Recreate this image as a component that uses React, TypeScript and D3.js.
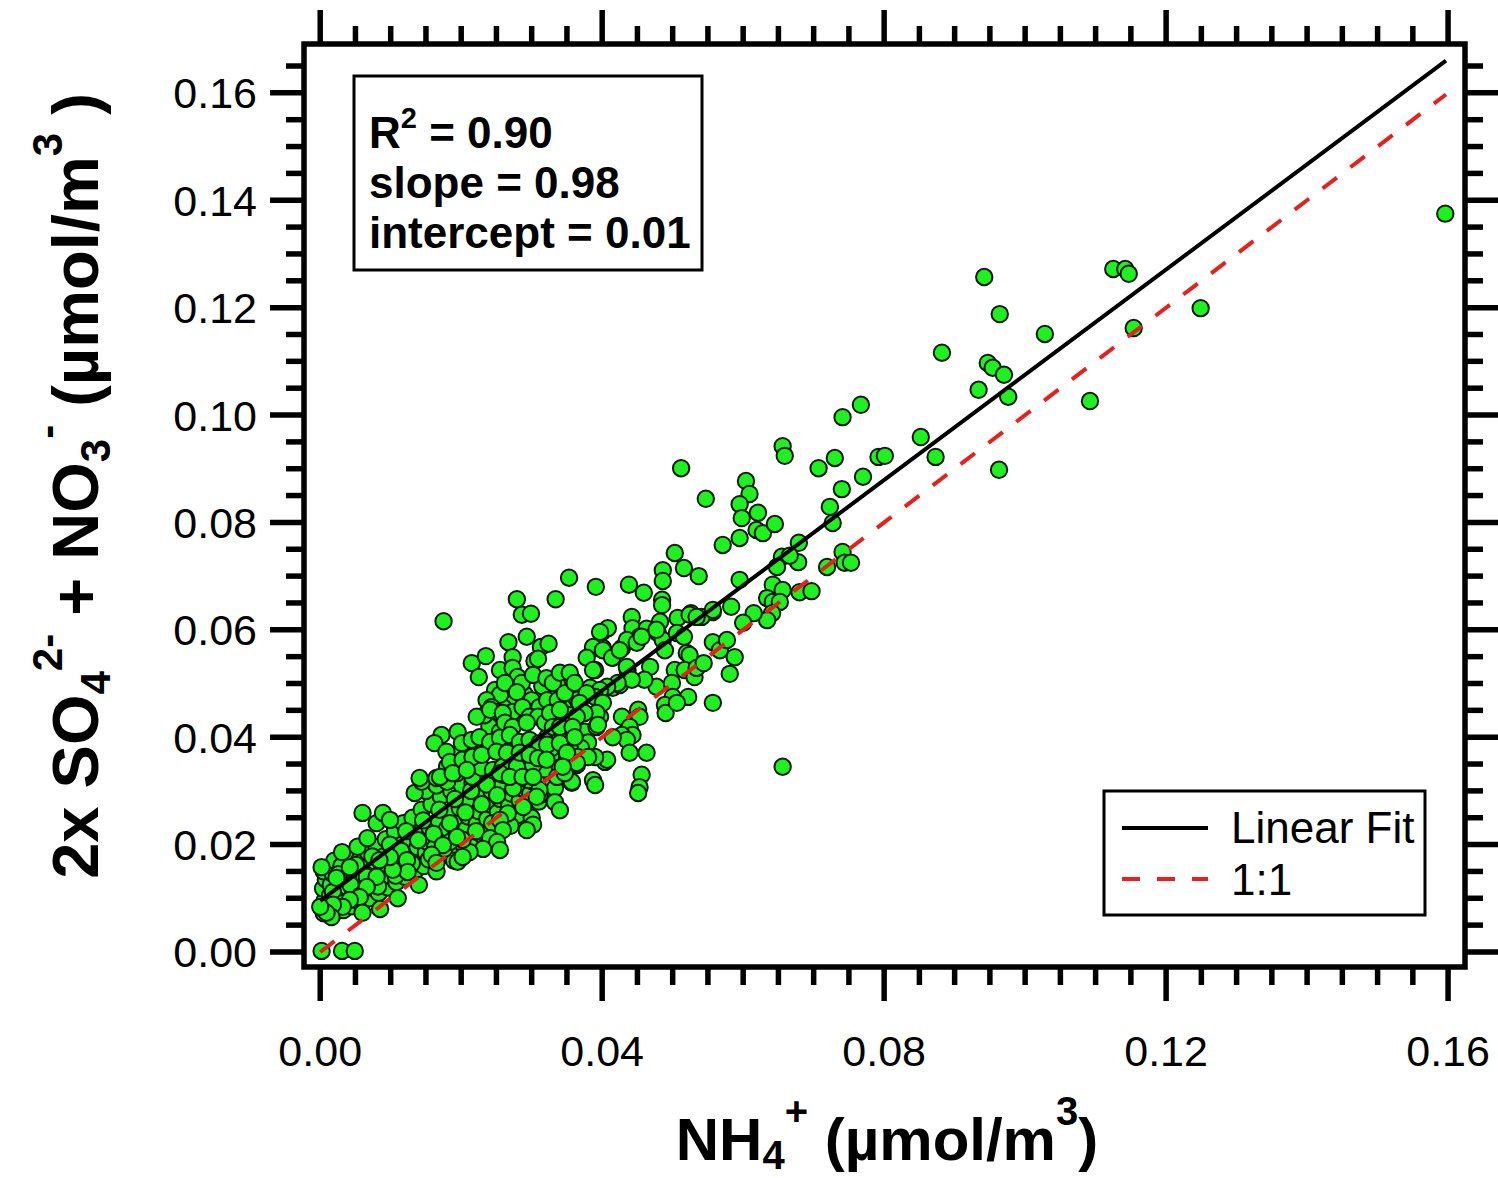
import React from "react";
import * as d3 from "d3";

// ---------- data (µmol/m3) ----------
const outlierPoints: [number, number][] = [
  [0.1596, 0.1375], [0.0942, 0.1257], [0.1125, 0.1272], [0.1142, 0.1272], [0.1147, 0.1263],
  [0.1154, 0.1162], [0.1249, 0.1199], [0.1028, 0.1151], [0.0882, 0.1116], [0.0964, 0.1188],
  [0.0947, 0.1097], [0.0954, 0.1088], [0.097, 0.1075], [0.0934, 0.1047], [0.0976, 0.1034],
  [0.1092, 0.1026], [0.0963, 0.0898], [0.0852, 0.0959], [0.0873, 0.0922], [0.0792, 0.0922],
  [0.0801, 0.0924], [0.077, 0.0885], [0.0741, 0.0996], [0.0767, 0.1019], [0.073, 0.092],
  [0.0707, 0.0901], [0.074, 0.0862], [0.0723, 0.0829], [0.0727, 0.0799], [0.0656, 0.0942],
  [0.0659, 0.0924], [0.0512, 0.0901], [0.0547, 0.0844], [0.0604, 0.0877], [0.0609, 0.0853],
  [0.0595, 0.0834], [0.0621, 0.0818], [0.0598, 0.0808], [0.0619, 0.0786], [0.0628, 0.078],
  [0.0645, 0.0797], [0.0595, 0.0771], [0.0571, 0.0758], [0.0656, 0.0345],
];

const midPoints: [number, number][] = [
  [0.0503, 0.0743], [0.0516, 0.0715], [0.0537, 0.07], [0.0486, 0.0711], [0.0486, 0.0691],
  [0.0485, 0.0656], [0.0485, 0.0646], [0.0353, 0.0697], [0.0391, 0.068], [0.0438, 0.0684],
  [0.0459, 0.0669], [0.0595, 0.0693], [0.0679, 0.0762], [0.0678, 0.0726], [0.0655, 0.0736],
  [0.0666, 0.0738], [0.0648, 0.0717], [0.0719, 0.0717], [0.0741, 0.0745], [0.0744, 0.0725],
  [0.0753, 0.0725], [0.0642, 0.0684], [0.0656, 0.0674], [0.0634, 0.0659], [0.0642, 0.0652],
  [0.0652, 0.0652], [0.068, 0.067], [0.0697, 0.0672], [0.0641, 0.0631], [0.0634, 0.0618],
  [0.0615, 0.0631], [0.06, 0.0613], [0.0583, 0.0643], [0.0557, 0.0633], [0.0541, 0.0624],
  [0.0526, 0.0631], [0.0507, 0.0622], [0.0482, 0.0615], [0.0479, 0.0594], [0.0442, 0.0624],
  [0.0443, 0.0603], [0.0463, 0.0602], [0.0453, 0.0587], [0.0435, 0.0581], [0.0408, 0.0603],
  [0.0397, 0.0596], [0.0387, 0.0568], [0.0401, 0.0562], [0.0378, 0.0548], [0.0387, 0.0525],
  [0.034, 0.052], [0.0354, 0.052], [0.0361, 0.0501], [0.0414, 0.0548], [0.0425, 0.0562],
  [0.0435, 0.0531], [0.0449, 0.0576], [0.0456, 0.0587], [0.0468, 0.0531], [0.0486, 0.0581],
  [0.0477, 0.06], [0.0489, 0.0562], [0.0506, 0.0594], [0.0516, 0.0587], [0.0524, 0.0628],
  [0.0534, 0.0624], [0.0557, 0.0637], [0.052, 0.0557], [0.0524, 0.0553], [0.0503, 0.0525],
  [0.0517, 0.0525], [0.0531, 0.0512], [0.0534, 0.0529], [0.0544, 0.0538], [0.0557, 0.0577],
  [0.0567, 0.0562], [0.0577, 0.0581], [0.0588, 0.0549], [0.0581, 0.0518], [0.0477, 0.0494],
  [0.0499, 0.0501], [0.05, 0.0475], [0.0522, 0.0475], [0.0489, 0.046], [0.049, 0.0445],
  [0.0506, 0.0464], [0.0557, 0.0464], [0.046, 0.0507], [0.0442, 0.0507], [0.0422, 0.0501],
  [0.0407, 0.0494], [0.0397, 0.0488], [0.039, 0.0475], [0.0378, 0.0482], [0.0368, 0.0464],
  [0.0401, 0.0464], [0.0392, 0.0445], [0.0394, 0.0423], [0.0375, 0.0445], [0.0451, 0.0451],
  [0.0453, 0.0438], [0.0428, 0.0438], [0.0439, 0.0419], [0.0443, 0.0404], [0.0428, 0.0404],
  [0.0435, 0.0395], [0.0439, 0.0371], [0.0415, 0.04], [0.0463, 0.0371], [0.0407, 0.0358],
  [0.039, 0.0363], [0.038, 0.0363], [0.0364, 0.0352], [0.0357, 0.0317], [0.039, 0.0311],
  [0.0347, 0.0333], [0.0456, 0.033], [0.0453, 0.0307], [0.0451, 0.0296], [0.034, 0.0451],
  [0.034, 0.0419], [0.034, 0.0389], [0.035, 0.0371], [0.0344, 0.0345], [0.0364, 0.0438],
  [0.0358, 0.0419], [0.0361, 0.04],
];

const clusterPoints: [number, number][] = [
  [0.0175, 0.0616], [0.0279, 0.0657], [0.0334, 0.0657], [0.0286, 0.0628], [0.0299, 0.063],
  [0.0267, 0.0577], [0.0293, 0.0587], [0.0313, 0.0568], [0.0324, 0.0574], [0.0215, 0.0538],
  [0.0235, 0.0551], [0.0225, 0.0512], [0.0273, 0.0549], [0.0255, 0.0525], [0.0273, 0.0529],
  [0.028, 0.0512], [0.0286, 0.0501], [0.0304, 0.0542], [0.0309, 0.0546], [0.0248, 0.0488],
  [0.0255, 0.0479], [0.0262, 0.0501], [0.0236, 0.0469], [0.0243, 0.0456], [0.0233, 0.0441],
  [0.0252, 0.0447], [0.0302, 0.0516], [0.0321, 0.051], [0.033, 0.0501], [0.0358, 0.0507],
  [0.0387, 0.0566], [0.04, 0.0596], [0.0401, 0.0566], [0.0415, 0.0548], [0.0428, 0.0566],
  [0.039, 0.0525], [0.0383, 0.0492], [0.0415, 0.0492], [0.0425, 0.0497], [0.0436, 0.0525],
  [0.0279, 0.0484], [0.03, 0.0469], [0.0311, 0.0456], [0.0322, 0.0469], [0.0337, 0.0469],
  [0.0347, 0.0482], [0.0273, 0.0447], [0.0287, 0.0456], [0.0297, 0.0438], [0.0309, 0.0438],
  [0.0319, 0.0427], [0.0326, 0.0445], [0.0343, 0.0447], [0.0354, 0.0441], [0.0397, 0.0438],
  [0.0392, 0.0419], [0.0436, 0.0413], [0.0222, 0.0438], [0.0241, 0.0451], [0.0259, 0.0445],
  [0.0262, 0.0427], [0.0273, 0.0419], [0.0293, 0.0427], [0.033, 0.0419], [0.0343, 0.0413],
  [0.035, 0.0408], [0.0358, 0.0427], [0.0172, 0.0404], [0.0195, 0.041], [0.0162, 0.0389],
  [0.0179, 0.0373], [0.0201, 0.0389], [0.0215, 0.0395], [0.0226, 0.04], [0.0241, 0.0391],
  [0.0255, 0.0399], [0.0269, 0.0404], [0.0283, 0.0391], [0.0297, 0.0395], [0.0311, 0.0389],
  [0.0322, 0.0386], [0.0343, 0.0391], [0.0354, 0.038], [0.0184, 0.0354], [0.0202, 0.0358],
  [0.0216, 0.0363], [0.0229, 0.0367], [0.025, 0.0373], [0.0265, 0.0371], [0.0283, 0.0371],
  [0.0297, 0.0367], [0.0309, 0.0361], [0.0321, 0.0358], [0.035, 0.0361], [0.0365, 0.0363],
  [0.0141, 0.0324], [0.017, 0.0326], [0.0188, 0.0333], [0.0208, 0.0339], [0.0255, 0.0333],
  [0.0269, 0.0326], [0.0287, 0.0326], [0.0302, 0.0326], [0.0336, 0.0326], [0.0387, 0.032],
];

const lowPoints: [number, number][] = [
  [0.0002, 0.0002], [0.0031, 0.0002], [0.0049, 0.0002], [0.006, 0.0259], [0.0002, 0.0158],
  [0.0023, 0.0138], [0.0002, 0.0082], [0.0042, 0.0158], [0.0031, 0.0186], [0.0053, 0.0196],
  [0.0067, 0.0212], [0.008, 0.024], [0.0089, 0.0259], [0.0099, 0.0246], [0.0134, 0.0296],
  [0.0144, 0.0317], [0.0165, 0.0324], [0.018, 0.0317], [0.0194, 0.0333], [0.0216, 0.0326],
  [0.0229, 0.0343], [0.0245, 0.0339], [0.0259, 0.0345], [0.0279, 0.0345], [0.0302, 0.0348],
  [0.034, 0.0343], [0.0357, 0.0315], [0.0404, 0.0354], [0.0364, 0.0348], [0.0311, 0.0302],
  [0.0307, 0.0289], [0.0333, 0.0279], [0.034, 0.0264], [0.0302, 0.0237], [0.0293, 0.0227],
  [0.0255, 0.0246], [0.0259, 0.0227], [0.0241, 0.0212], [0.0251, 0.0205], [0.0255, 0.019],
  [0.0231, 0.0192], [0.0212, 0.0186], [0.0195, 0.0168], [0.0202, 0.0177], [0.0202, 0.0209],
  [0.0184, 0.0205], [0.0194, 0.0214], [0.0174, 0.0199], [0.0158, 0.0181], [0.0165, 0.0166],
  [0.0123, 0.0171], [0.0124, 0.0149], [0.0103, 0.0153], [0.0099, 0.0177], [0.0084, 0.0171],
  [0.008, 0.014], [0.0066, 0.0121], [0.0056, 0.0102], [0.006, 0.0073], [0.0042, 0.0097],
  [0.0032, 0.0084], [0.0018, 0.0088], [0.0016, 0.0065], [0.0009, 0.0073], [0.0, 0.0084],
];

const corePoints: [number, number][] = [
  [0.0005, 0.0072], [0.0006, 0.0095], [0.0004, 0.0118], [0.0008, 0.0135], [0.0005, 0.015],
  [0.0012, 0.008], [0.0014, 0.0105], [0.0015, 0.0125], [0.0018, 0.0145], [0.002, 0.017],
  [0.0022, 0.0075], [0.0025, 0.0098], [0.0027, 0.0115], [0.0028, 0.0132], [0.003, 0.016],
  [0.0033, 0.0078], [0.0035, 0.0105], [0.0037, 0.0122], [0.004, 0.014], [0.0042, 0.018],
  [0.0045, 0.0085], [0.0047, 0.0112], [0.005, 0.013], [0.0052, 0.015], [0.0055, 0.017],
  [0.0058, 0.009], [0.006, 0.0118], [0.0062, 0.0138], [0.0065, 0.016], [0.0068, 0.0185],
  [0.007, 0.01], [0.0072, 0.0125], [0.0075, 0.0145], [0.0078, 0.0168], [0.008, 0.0195],
  [0.0083, 0.011], [0.0086, 0.0132], [0.0088, 0.0155], [0.009, 0.0178], [0.0093, 0.021],
  [0.0096, 0.012], [0.0098, 0.0142], [0.01, 0.0163], [0.0103, 0.019], [0.0106, 0.0225],
  [0.0108, 0.013], [0.011, 0.0152], [0.0113, 0.0175], [0.0116, 0.02], [0.0118, 0.024],
  [0.012, 0.014], [0.0123, 0.016], [0.0126, 0.0185], [0.0128, 0.021], [0.0131, 0.025],
  [0.0134, 0.015], [0.0136, 0.0172], [0.0138, 0.0195], [0.0141, 0.0222], [0.0144, 0.0265],
  [0.0147, 0.016], [0.015, 0.0185], [0.0152, 0.0205], [0.0155, 0.0232], [0.0158, 0.0275],
  [0.016, 0.017], [0.0163, 0.0195], [0.0166, 0.0218], [0.0168, 0.0245], [0.0171, 0.029],
  [0.0174, 0.018], [0.0177, 0.0205], [0.018, 0.023], [0.0183, 0.0258], [0.0186, 0.03],
  [0.0189, 0.019], [0.0192, 0.0215], [0.0195, 0.024], [0.0198, 0.0268], [0.0201, 0.031],
  [0.0204, 0.02], [0.0207, 0.0228], [0.021, 0.0252], [0.0213, 0.028], [0.0216, 0.0315],
  [0.0219, 0.021], [0.0222, 0.0238], [0.0225, 0.0262], [0.0228, 0.029], [0.0231, 0.0322],
  [0.0234, 0.022], [0.0237, 0.0248], [0.024, 0.0275], [0.0243, 0.03], [0.0246, 0.033],
  [0.0249, 0.0232], [0.0252, 0.026], [0.0255, 0.0285], [0.0258, 0.031], [0.0262, 0.035],
  [0.0265, 0.0245], [0.0268, 0.0272], [0.0271, 0.0295], [0.0274, 0.032], [0.0277, 0.036],
  [0.028, 0.0255], [0.0283, 0.0282], [0.0286, 0.0305], [0.0289, 0.0335], [0.0292, 0.0375],
  [0.0295, 0.0268], [0.0298, 0.0295], [0.0301, 0.0318], [0.0304, 0.0345], [0.0307, 0.0385],
  [0.031, 0.028], [0.0313, 0.0305], [0.0316, 0.033], [0.0319, 0.0358], [0.0322, 0.04],
  [0.0326, 0.0292], [0.0329, 0.0318], [0.0332, 0.0342], [0.0335, 0.037], [0.0338, 0.041],
  [0.0085, 0.008], [0.011, 0.01], [0.014, 0.0125], [0.0165, 0.015], [0.019, 0.017],
  [0.0215, 0.0195], [0.0245, 0.0215], [0.027, 0.0235], [0.03, 0.025],
];

const coreFillPoints: [number, number][] = [
  [0.001, 0.0088], [0.0018, 0.0112], [0.0026, 0.0145], [0.0034, 0.0092], [0.0043, 0.0125],
  [0.0051, 0.0162], [0.0057, 0.0105], [0.0066, 0.014], [0.0074, 0.0178], [0.0082, 0.0122],
  [0.0091, 0.0165], [0.0099, 0.02], [0.0107, 0.0142], [0.0115, 0.0188], [0.0122, 0.0225],
  [0.013, 0.0165], [0.0139, 0.0208], [0.0146, 0.0245], [0.0154, 0.0172], [0.0161, 0.022],
  [0.0169, 0.0265], [0.0176, 0.0192], [0.0184, 0.024], [0.0191, 0.0285], [0.0199, 0.0205],
  [0.0206, 0.026], [0.0214, 0.03], [0.0221, 0.0225], [0.0229, 0.0275], [0.0236, 0.0312],
  [0.0244, 0.024], [0.0251, 0.0292], [0.0259, 0.033], [0.0266, 0.0258], [0.0274, 0.0305],
  [0.0281, 0.0345], [0.0288, 0.027], [0.0296, 0.032], [0.0303, 0.036], [0.0311, 0.0292],
  [0.0318, 0.034], [0.0326, 0.0375], [0.0333, 0.0305], [0.0341, 0.0355], [0.0348, 0.0395],
  [0.015, 0.03], [0.0165, 0.031], [0.018, 0.0345], [0.0195, 0.0365], [0.021, 0.0375],
  [0.0225, 0.0385], [0.024, 0.042], [0.0255, 0.041], [0.027, 0.043], [0.0285, 0.044],
  [0.03, 0.045], [0.0315, 0.046], [0.033, 0.0475], [0.0345, 0.0455], [0.0275, 0.0465],
  [0.026, 0.0455], [0.029, 0.048], [0.0315, 0.0495], [0.034, 0.0505], [0.0365, 0.047],
  [0.0375, 0.041], [0.038, 0.039], [0.037, 0.038],
];

const allPoints: [number, number][] = [
  ...corePoints, ...coreFillPoints, ...lowPoints, ...clusterPoints, ...midPoints, ...outlierPoints,
];

const fitSlope = 0.98;
const fitIntercept = 0.0095;
const lineXRange: [number, number] = [0, 0.1597];

const xMajorTicks = [0, 0.04, 0.08, 0.12, 0.16];
const yMajorTicks = [0, 0.02, 0.04, 0.06, 0.08, 0.1, 0.12, 0.14, 0.16];
const minorStep = 0.005;

const statsLines = { r2: "0.90", slope: "0.98", intercept: "0.01" };
const legendItems = ["Linear Fit", "1:1"];

// ---------- layout ----------
const W = 1498, H = 1178;
const L = 304, R = 1465, T = 44, B = 967;
const FONT = "'Liberation Sans', Arial, Helvetica, sans-serif";

export default function App() {
  const x = d3.scaleLinear().domain([-0.0023, 0.1624]).range([L, R]);
  const y = d3.scaleLinear().domain([-0.0028, 0.1691]).range([B, T]);

  const xMinor = d3.range(0, 0.1624, minorStep).filter(
    (v) => !xMajorTicks.some((m) => Math.abs(m - v) < 1e-6)
  );
  const yMinor = d3.range(0, 0.1691, minorStep).filter(
    (v) => !yMajorTicks.some((m) => Math.abs(m - v) < 1e-6)
  );
  const fmt = d3.format(".2f");

  const line = d3
    .line<[number, number]>()
    .x((d) => x(d[0]))
    .y((d) => y(d[1]));
  const fitData: [number, number][] = lineXRange.map((v) => [v, fitSlope * v + fitIntercept]);
  const oneData: [number, number][] = lineXRange.map((v) => [v, v]);

  const MAJ = 34, MIN = 18, TW = 5.5;

  return (
    <svg
      width={W}
      height={H}
      style={{ position: "absolute", left: 0, top: 0, background: "#fff" }}
      fontFamily={FONT}
    >
      <rect x={0} y={0} width={W} height={H} fill="#fff" />
      {/* ticks */}
      <g stroke="#000" strokeWidth={TW}>
        {xMajorTicks.map((v) => (
          <g key={"xm" + v}>
            <line x1={x(v)} x2={x(v)} y1={B} y2={B + MAJ} />
            <line x1={x(v)} x2={x(v)} y1={T} y2={T - MAJ} />
          </g>
        ))}
        {xMinor.map((v) => (
          <g key={"xn" + v}>
            <line x1={x(v)} x2={x(v)} y1={B} y2={B + MIN} />
            <line x1={x(v)} x2={x(v)} y1={T} y2={T - MIN} />
          </g>
        ))}
        {yMajorTicks.map((v) => (
          <g key={"ym" + v}>
            <line x1={L} x2={L - MAJ} y1={y(v)} y2={y(v)} />
            <line x1={R} x2={R + MAJ} y1={y(v)} y2={y(v)} />
          </g>
        ))}
        {yMinor.map((v) => (
          <g key={"yn" + v}>
            <line x1={L} x2={L - MIN} y1={y(v)} y2={y(v)} />
            <line x1={R} x2={R + MIN} y1={y(v)} y2={y(v)} />
          </g>
        ))}
      </g>

      {/* tick labels */}
      <g fontSize={43} fill="#000">
        {xMajorTicks.map((v) => (
          <text key={"xl" + v} x={x(v)} y={1066} textAnchor="middle">
            {fmt(v)}
          </text>
        ))}
        {yMajorTicks.map((v) => (
          <text key={"yl" + v} x={257} y={y(v)} dy="0.36em" textAnchor="end">
            {fmt(v)}
          </text>
        ))}
      </g>

      {/* points */}
      <g>
        {allPoints.map((d, i) => (
          <circle
            key={i}
            cx={x(d[0])}
            cy={y(d[1])}
            r={8.2}
            fill="#1ff01f"
            stroke="#0d1a0d"
            strokeWidth={2}
          />
        ))}
      </g>

      {/* lines */}
      <path d={line(fitData) || ""} stroke="#000" strokeWidth={4} fill="none" />
      <path
        d={line(oneData) || ""}
        stroke="#e8201c"
        strokeWidth={4}
        fill="none"
        strokeDasharray="18 17"
      />

      {/* frame */}
      <rect x={L} y={T} width={R - L} height={B - T} fill="none" stroke="#000" strokeWidth={5.5} />

      {/* stats box */}
      <rect x={354} y={76} width={348} height={194} fill="#fff" stroke="#000" strokeWidth={3} />
      <g fontSize={44} fontWeight="bold" fill="#000">
        <text x={369} y={148}>
          R<tspan fontSize={29} dy={-20}>2</tspan>
          <tspan dy={20}>{" = " + statsLines.r2}</tspan>
        </text>
        <text x={369} y={198}>{"slope = " + statsLines.slope}</text>
        <text x={369} y={248}>{"intercept = " + statsLines.intercept}</text>
      </g>

      {/* legend */}
      <rect x={1104} y={791} width={321} height={124} fill="#fff" stroke="#000" strokeWidth={3} />
      <line x1={1122} x2={1208} y1={828} y2={828} stroke="#000" strokeWidth={4} />
      <line
        x1={1122}
        x2={1208}
        y1={879}
        y2={879}
        stroke="#e8201c"
        strokeWidth={4}
        strokeDasharray="18 17"
      />
      <g fontSize={44} fill="#000">
        <text x={1231} y={843}>{legendItems[0]}</text>
        <text x={1231} y={895}>{legendItems[1]}</text>
      </g>

      {/* x axis title */}
      <text x={887} y={1160} textAnchor="middle" fontSize={60} fontWeight="bold" fill="#000">
        NH<tspan fontSize={40} dy={9}>4</tspan>
        <tspan fontSize={40} dy={-44}>+</tspan>
        <tspan dy={35}> (µmol/m</tspan>
        <tspan fontSize={40} dy={-35}>3</tspan>
        <tspan dy={35}>)</tspan>
      </text>

      {/* y axis title */}
      <text
        transform="translate(98,486) rotate(-90)"
        textAnchor="middle"
        fontSize={65}
        fontWeight="bold"
        fill="#000"
      >
        2x SO<tspan fontSize={42} dy={12}>4</tspan>
        <tspan fontSize={42} dy={-48}>2-</tspan>
        <tspan dy={36}> + NO</tspan>
        <tspan fontSize={42} dy={12}>3</tspan>
        <tspan fontSize={42} dy={-48}>-</tspan>
        <tspan dy={36}> (µmol/m</tspan>
        <tspan fontSize={42} dy={-36}>3</tspan>
        <tspan dy={36}> )</tspan>
      </text>
    </svg>
  );
}
